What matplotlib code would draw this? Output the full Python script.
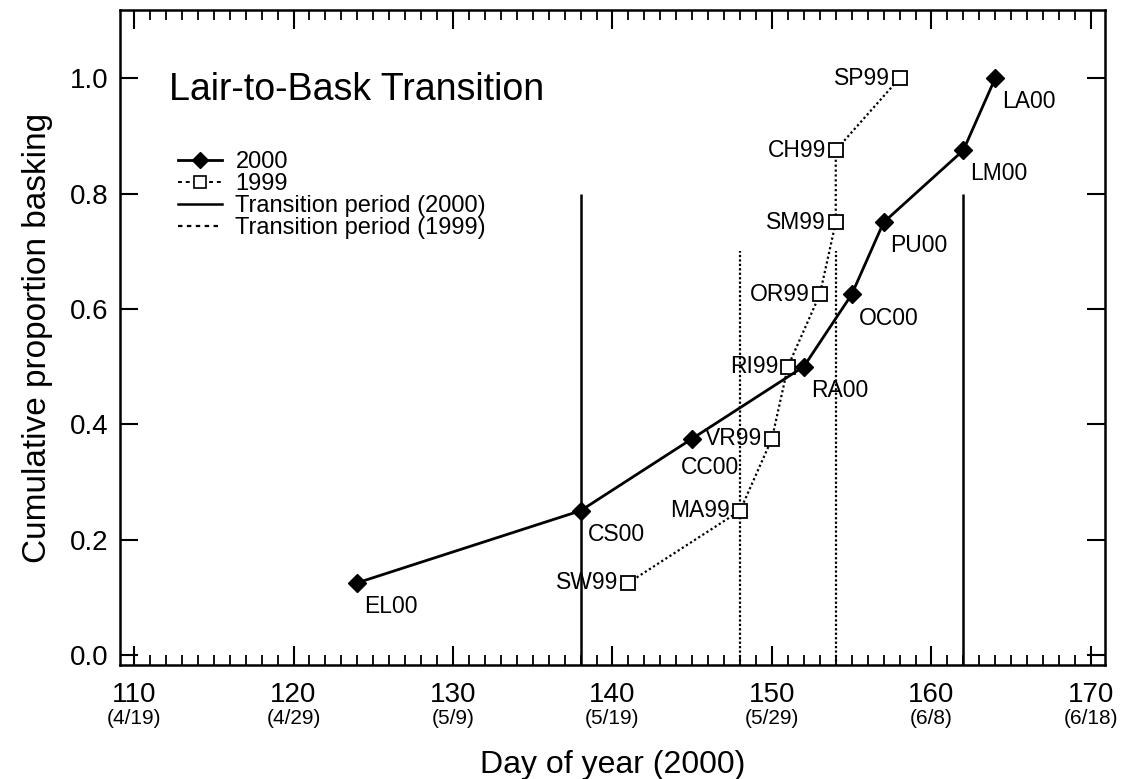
#======= Import ================================
import matplotlib.pyplot as plt
import matplotlib.ticker as mticker
import matplotlib.transforms as mtransforms
from matplotlib.lines import Line2D

plt.rcParams['font.family'] = ['Liberation Sans', 'DejaVu Sans']

#======= Data ================================
days_2000 = [124, 138, 145, 152, 155, 157, 162, 164]
prop_2000 = [0.125, 0.25, 0.375, 0.5, 0.625, 0.75, 0.875, 1.0]
names_2000 = ['EL00', 'CS00', 'CC00', 'RA00', 'OC00', 'PU00', 'LM00', 'LA00']

days_1999 = [141, 148, 150, 151, 153, 154, 154, 158]
prop_1999 = [0.125, 0.25, 0.375, 0.5, 0.625, 0.75, 0.875, 1.0]
names_1999 = ['SW99', 'MA99', 'VR99', 'RI99', 'OR99', 'SM99', 'CH99', 'SP99']

# transition periods: day, top of line
trans_2000 = [138, 162]
trans_2000_top = 0.8
trans_1999 = [148, 154]
trans_1999_top = 0.7

tick_days = [110, 120, 130, 140, 150, 160, 170]
tick_dates = ['(4/19)', '(4/29)', '(5/9)', '(5/19)', '(5/29)', '(6/8)', '(6/18)']
y_ticks = [0.0, 0.2, 0.4, 0.6, 0.8, 1.0]

#======= Plot ================================
fig = plt.figure(figsize=(11.29, 7.79), dpi=100)
ax = fig.add_axes([0.106, 0.146, 0.873, 0.841])

# transition period lines
for d in trans_2000:
    ax.plot([d, d], [-0.02, trans_2000_top], color='black', lw=1.8, solid_capstyle='butt')
for d in trans_1999:
    ax.plot([d, d], [-0.02, trans_1999_top], color='black', lw=1.6, linestyle=(0, (1, 1)))

# 1999 series
ax.plot(days_1999, prop_1999, color='black', lw=1.6, linestyle=(0, (1, 1.2)),
        marker='s', markersize=10, markerfacecolor='white', markeredgecolor='black',
        markeredgewidth=1.3, zorder=3)

# 2000 series
ax.plot(days_2000, prop_2000, color='black', lw=2.0, marker='D', markersize=9,
        markerfacecolor='black', markeredgecolor='black', zorder=4)

# point labels
for d, p, name in zip(days_2000, prop_2000, names_2000):
    if name == 'CC00':
        off = (-8, -21)
    else:
        off = (5, -17)
    ax.annotate(name, (d, p), xytext=off, textcoords='offset points',
                ha='left', va='center', fontsize=16.5)

for d, p, name in zip(days_1999, prop_1999, names_1999):
    ax.annotate(name, (d, p), xytext=(-7, 0), textcoords='offset points',
                ha='right', va='center', fontsize=16.5)

# title inside the plot
ax.text(0.05, 0.878, 'Lair-to-Bask Transition', transform=ax.transAxes,
        fontsize=27, ha='left', va='center')

# legend
handles = [
    Line2D([], [], color='black', lw=2.0, marker='D', markersize=8),
    Line2D([], [], color='black', lw=1.4, linestyle=(0, (2, 2)), marker='s',
           markersize=9, markerfacecolor='white', markeredgewidth=1.2),
    Line2D([], [], color='black', lw=1.8),
    Line2D([], [], color='black', lw=1.6, linestyle=(0, (2, 2))),
]
labels = ['2000', '1999', 'Transition period (2000)', 'Transition period (1999)']
ax.legend(handles, labels, loc='upper left', bbox_to_anchor=(0.042, 0.81),
          frameon=False, fontsize=17, handlelength=1.9, handletextpad=0.55,
          labelspacing=0.0, borderpad=0.2)

# axes
ax.set_xlim(109.1, 170.9)
ax.set_ylim(-0.018, 1.118)
ax.set_xticks(tick_days)
ax.set_xticklabels([str(t) for t in tick_days])
ax.xaxis.set_minor_locator(mticker.MultipleLocator(1))
ax.set_yticks(y_ticks)
ax.set_yticklabels([f'{v:.1f}' for v in y_ticks])

ax.tick_params(axis='x', which='major', direction='in', length=14, width=1.5,
               top=True, bottom=True, labelsize=20, pad=12)
ax.tick_params(axis='x', which='minor', direction='in', length=7, width=1.3,
               top=True, bottom=True)
ax.tick_params(axis='y', which='major', direction='in', length=13, width=1.5,
               left=True, right=True, labelsize=20, pad=8)
for sp in ax.spines.values():
    sp.set_linewidth(1.8)

# date labels under the day numbers
trans = mtransforms.blended_transform_factory(ax.transData, ax.transAxes)
for d, s in zip(tick_days, tick_dates):
    ax.text(d, -0.081, s, transform=trans, ha='center', va='center', fontsize=15)

ax.set_xlabel('Day of year (2000)', fontsize=23, labelpad=30)
ax.set_ylabel('Cumulative proportion basking', fontsize=24, labelpad=12)

fig.savefig('out.png', dpi=100)
